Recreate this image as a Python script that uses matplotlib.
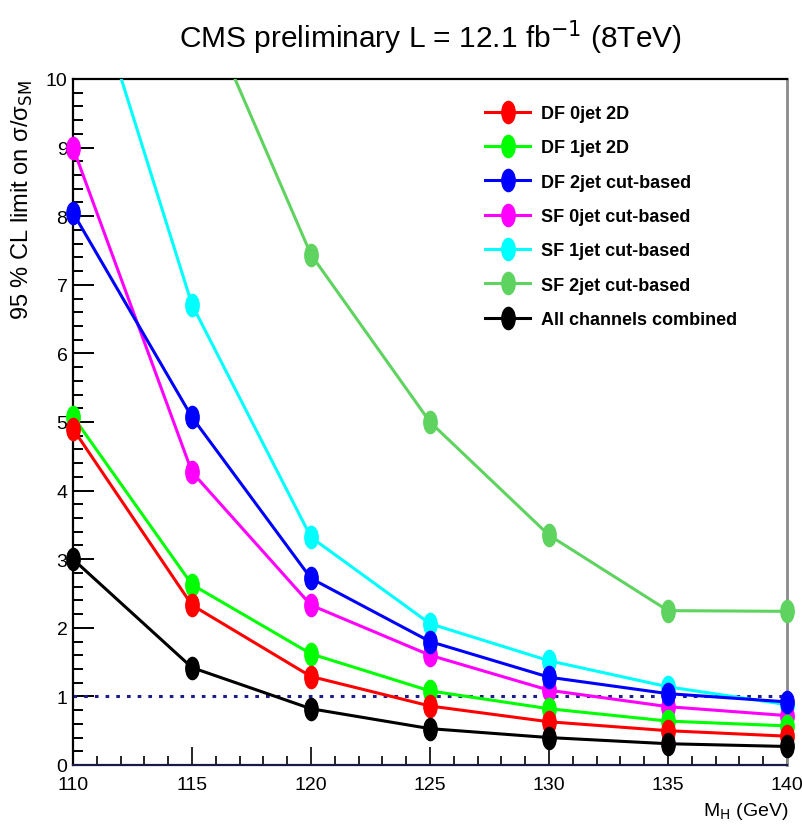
import matplotlib
matplotlib.use("Agg")
import matplotlib.pyplot as plt
from matplotlib.ticker import MultipleLocator
from matplotlib.path import Path
from matplotlib.transforms import Affine2D
from matplotlib.lines import Line2D

# Higgs mass points
mh = [110, 115, 120, 125, 130, 135, 140]

df0 = [4.90, 2.33, 1.29, 0.86, 0.63, 0.50, 0.42]
df1 = [5.08, 2.63, 1.62, 1.08, 0.82, 0.64, 0.57]
df2 = [8.05, 5.07, 2.72, 1.80, 1.28, 1.04, 0.92]
sf0 = [9.00, 4.27, 2.33, 1.60, 1.09, 0.85, 0.72]
sf1 = [12.25, 6.71, 3.32, 2.06, 1.52, 1.14, 0.88]
sf2 = [15.0, 11.45, 7.44, 5.00, 3.35, 2.25, 2.24]
comb = [3.00, 1.42, 0.82, 0.53, 0.40, 0.31, 0.27]

labels = ["DF 0jet 2D", "DF 1jet 2D", "DF 2jet cut-based", "SF 0jet cut-based",
          "SF 1jet cut-based", "SF 2jet cut-based", "All channels combined"]
colors = ["#ff0000", "#00ff00", "#0000ff", "#ff00ff", "#00ffff", "#5fd35f", "#000000"]
series = [df0, df1, df2, sf0, sf1, sf2, comb]

fnt = ["Liberation Sans", "DejaVu Sans"]

fig = plt.figure(figsize=(8.03, 8.28), dpi=100)
ax = fig.add_axes([73/803, 62/828, 714/803, 686/828])

ell = Path.unit_circle().transformed(Affine2D().scale(0.6, 1.0))

# draw order so the overlaps look like the original
order = [5, 4, 3, 2, 1, 0, 6]
z = 3
for i in order:
    ax.plot(mh, series[i], color=colors[i], lw=2.2, zorder=z)
    xs = [x for x, y in zip(mh, series[i]) if y <= 10]
    ys = [y for y in series[i] if y <= 10]
    ax.plot(xs, ys, ls="none", marker=ell, ms=16, mec=colors[i], mfc=colors[i],
            clip_on=False, zorder=z)
    z += 0.1

ax.axhline(1.0, color="#1c1c8c", lw=2.2, ls=(0, (1.2, 2.3)), zorder=2)

ax.set_xlim(110, 140)
ax.set_ylim(0, 10)
ax.xaxis.set_major_locator(MultipleLocator(5))
ax.xaxis.set_minor_locator(MultipleLocator(1))
ax.yaxis.set_major_locator(MultipleLocator(1))
ax.yaxis.set_minor_locator(MultipleLocator(0.2))
ax.tick_params(axis="y", which="major", direction="in", length=15, width=1.4, pad=4)
ax.tick_params(axis="y", which="minor", direction="in", length=7.5, width=1.4)
ax.tick_params(axis="x", which="major", direction="in", length=13, width=1.2, pad=8)
ax.tick_params(axis="x", which="minor", direction="in", length=6.5, width=1.2)
for lab in ax.get_xticklabels() + ax.get_yticklabels():
    lab.set_family(fnt)
    lab.set_fontsize(14)

ax.spines["left"].set_color("black")
ax.spines["left"].set_linewidth(1.6)
ax.spines["bottom"].set_color("#1a1a4a")
ax.spines["bottom"].set_linewidth(1.6)
ax.spines["top"].set_color("black")
ax.spines["top"].set_linewidth(1.6)
ax.spines["right"].set_color("#8a8a8a")
ax.spines["right"].set_linewidth(2.0)

handles = [Line2D([], [], color=c, lw=2.2, marker=ell, ms=16, mec=c, mfc=c)
           for c in colors]
leg = ax.legend(handles, labels, loc="upper left", bbox_to_anchor=(0.577, 0.962),
                frameon=False, borderpad=0, borderaxespad=0, handlelength=2.5,
                handletextpad=0.6, labelspacing=0.96, numpoints=1,
                prop={"family": fnt, "weight": "bold", "size": 13})

fig.text(0.536, 1 - 38/828, "CMS preliminary L = 12.1 fb$^{-1}$ (8TeV)",
         ha="center", va="center", fontsize=21.5, family=fnt)

fig.text(22/803, 1 - 80/828, r"95 % CL limit on σ/σ$_{\mathrm{SM}}$",
         rotation=90, ha="center", va="top", fontsize=17, family=fnt)

fig.text(788/803, 1 - 812/828, r"M$_{\mathrm{H}}$ (GeV)", ha="right", va="center",
         fontsize=14, family=fnt)

fig.savefig("out.png", dpi=100)
